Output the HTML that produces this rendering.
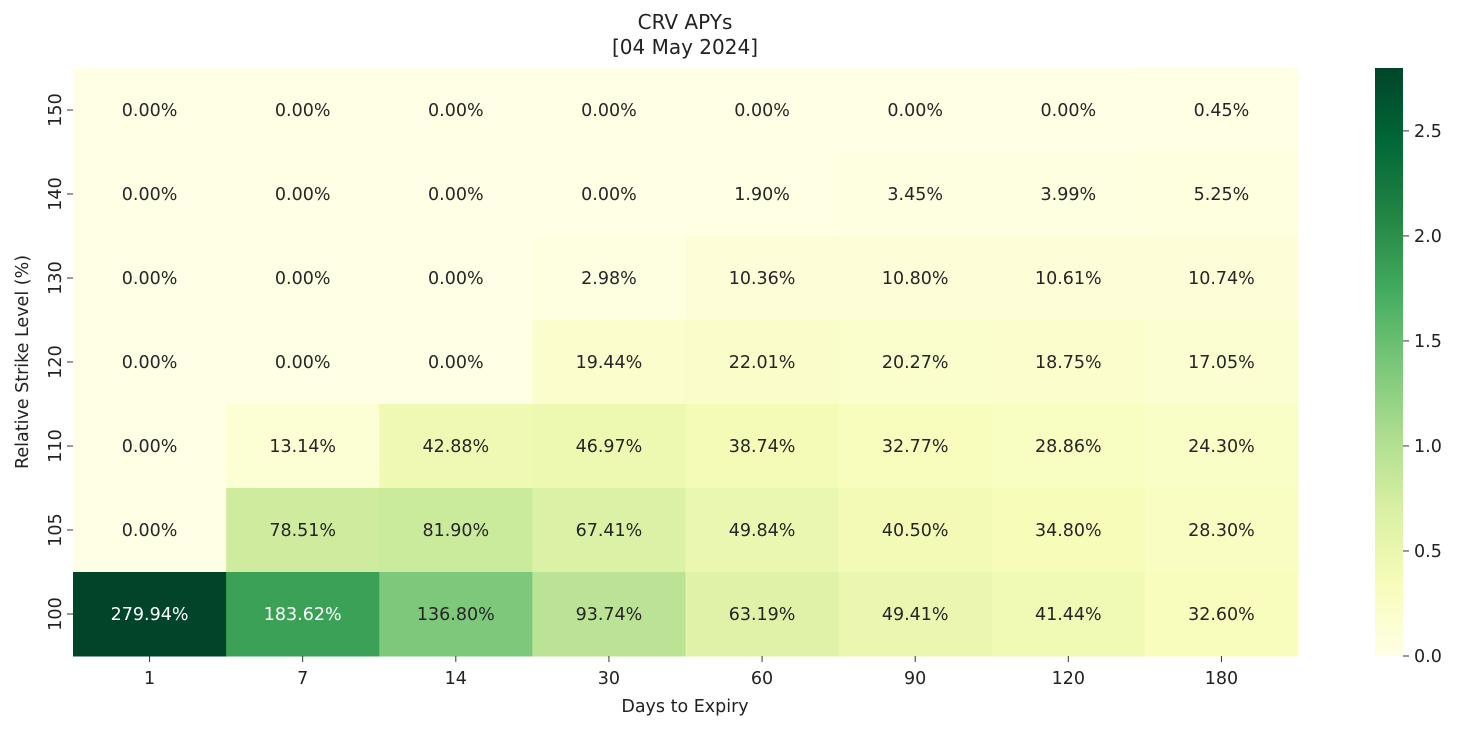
<!DOCTYPE html>
<html><head><meta charset="utf-8"><style>
body{margin:0;background:#fff;font-family:"Liberation Sans","DejaVu Sans",sans-serif;}
svg text{font-family:"DejaVu Sans","Liberation Sans",sans-serif;fill:#222;}
</style></head><body>
<svg id="c" width="1460" height="729">
<text x="685" y="29" font-size="20" text-anchor="middle">CRV APYs</text>
<text x="685" y="54" font-size="20" text-anchor="middle">[04 May 2024]</text>
<text x="685" y="712" font-size="17.5" text-anchor="middle">Days to Expiry</text>
<text x="0" y="0" font-size="17.5" text-anchor="middle" transform="translate(28,362) rotate(-90)">Relative Strike Level (%)</text>
<defs><linearGradient id="cb" x1="0" y1="1" x2="0" y2="0"></linearGradient></defs>
</svg>
<script>
const days=["1","7","14","30","60","90","120","180"];
const strikes=["150","140","130","120","110","105","100"];
const apy=[
[0,0,0,0,0,0,0,0.45],
[0,0,0,0,1.90,3.45,3.99,5.25],
[0,0,0,2.98,10.36,10.80,10.61,10.74],
[0,0,0,19.44,22.01,20.27,18.75,17.05],
[0,13.14,42.88,46.97,38.74,32.77,28.86,24.30],
[0,78.51,81.90,67.41,49.84,40.50,34.80,28.30],
[279.94,183.62,136.80,93.74,63.19,49.41,41.44,32.60]];
const cbTicks=[0,0.5,1.0,1.5,2.0,2.5];
const NS="http://www.w3.org/2000/svg",svg=document.getElementById('c');
const L=73,R=1298,T=68,B=656,vmax=2.7994;
const cw=(R-L)/days.length,rh=(B-T)/strikes.length;
const stops=["#ffffe5","#f7fcb9","#d9f0a3","#addd8e","#78c679","#41ab5d","#238443","#006837","#004529"];
function hex(h){return [1,3,5].map(i=>parseInt(h.substr(i,2),16));}
function cmap(v){let t=Math.max(0,Math.min(1,v/vmax))*(stops.length-1);let i=Math.min(Math.floor(t),stops.length-2),f=t-i;
const a=hex(stops[i]),b=hex(stops[i+1]);return a.map((x,k)=>Math.round(x+(b[k]-x)*f));}
function lin(c){c/=255;return c<=0.03928?c/12.92:Math.pow((c+0.055)/1.055,2.4);}
function el(tag,at,txt){const e=document.createElementNS(NS,tag);for(const k in at)e.setAttribute(k,at[k]);if(txt!==undefined)e.textContent=txt;svg.appendChild(e);return e;}
const xPos=j=>L+j*cw, yPos=i=>T+i*rh, cbY=v=>B-(v/vmax)*(B-T);
apy.forEach((row,i)=>row.forEach((v,j)=>{
const c=cmap(v/100);
const r=el('rect',{x:xPos(j),y:yPos(i),width:cw+0.5,height:rh+0.5,fill:`rgb(${c})`});


const lum=0.2126*lin(c[0])+0.7152*lin(c[1])+0.0722*lin(c[2]);
const t=el('text',{x:xPos(j)+cw/2,y:yPos(i)+rh/2+6,'font-size':17.5,'text-anchor':'middle',style:'fill:'+(lum>0.408?'#262626':'#fff')},v.toFixed(2)+'%');


}));
days.forEach((d,j)=>{const x=xPos(j)+cw/2;
const tk=el('line',{x1:x,x2:x,y1:B,y2:B+6,stroke:'#333'});


const t=el('text',{x:x,y:B+28,'font-size':17.5,'text-anchor':'middle'},d);

});
strikes.forEach((s,i)=>{const y=yPos(i)+rh/2;
const tk=el('line',{x1:L-6,x2:L,y1:y,y2:y,stroke:'#333'});


const t=el('text',{x:0,y:0,'font-size':17.5,'text-anchor':'middle',transform:`translate(${L-12},${y}) rotate(-90)`},s);

});
const g=document.getElementById('cb');
stops.forEach((s,k)=>{const st=document.createElementNS(NS,'stop');st.setAttribute('offset',k/(stops.length-1));st.setAttribute('stop-color',s);g.appendChild(st);});
const cb=el('rect',{x:1375,y:T,width:28,height:B-T,fill:'url(#cb)'});


cbTicks.forEach(v=>{const y=cbY(v);
const tk=el('line',{x1:1403,x2:1409,y1:y,y2:y,stroke:'#333'});


const t=el('text',{x:1414,y:y+6,'font-size':17.5},v.toFixed(1));

});
</script>
</body></html>
